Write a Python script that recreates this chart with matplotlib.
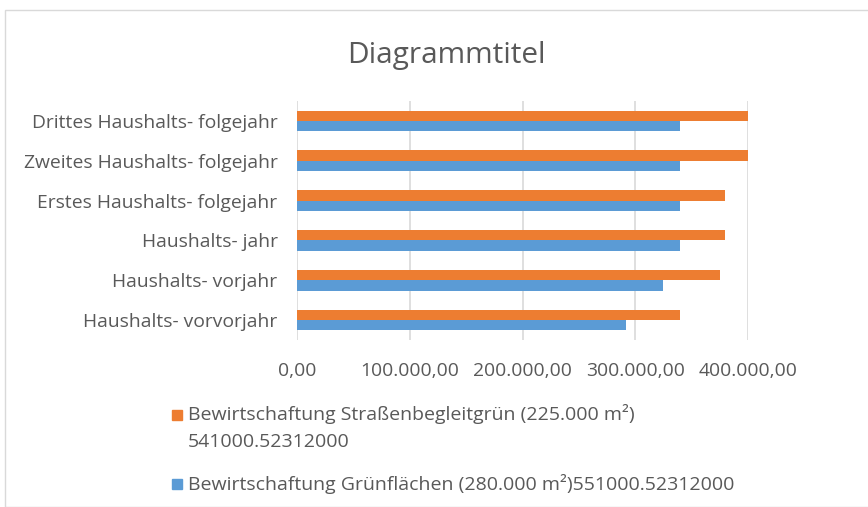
import numpy as np
import matplotlib.pyplot as plt
from matplotlib.patches import Rectangle
from matplotlib.ticker import FuncFormatter

plt.rcParams['font.family'] = ['Open Sans', 'DejaVu Sans']

# ── Data ────────────────────────────────────────────────────────────────────
categories = ['Haushalts- vorvorjahr', 'Haushalts- vorjahr', 'Haushalts- jahr',
              'Erstes Haushalts- folgejahr', 'Zweites Haushalts- folgejahr',
              'Drittes Haushalts- folgejahr']
strassen = [340000, 375000, 380000, 380000, 400000, 400000]
gruen = [292000, 325000, 340000, 340000, 340000, 340000]
label_strassen = 'Bewirtschaftung Straßenbegleitgrün (225.000 m²)\n541000.52312000'
label_gruen = 'Bewirtschaftung Grünflächen (280.000 m²)551000.52312000'
x_ticks = [0, 100000, 200000, 300000, 400000]

ORANGE = '#ED7D31'
BLUE = '#5B9BD5'
TEXT = '#595959'
GRID = '#D9D9D9'

W, H = 868, 507
fig = plt.figure(figsize=(W / 100, H / 100), dpi=100)

# chart frame
fig.patches.append(Rectangle((5 / W, 0), 1, 1 - 10 / H, transform=fig.transFigure,
                             fill=False, edgecolor='#D9D9D9', linewidth=1))

ax = fig.add_axes([297 / W, 1 - 340 / H, (748 - 297) / W, (340 - 101) / H])

y = np.arange(len(categories))
h = 0.26
ax.barh(y + h / 2, strassen, height=h, color=ORANGE, zorder=3)
ax.barh(y - h / 2, gruen, height=h, color=BLUE, zorder=3)

ax.set_xlim(0, 400000)
ax.set_ylim(-0.5, len(categories) - 0.5)
ax.set_xticks(x_ticks)
ax.xaxis.set_major_formatter(FuncFormatter(
    lambda v, p: f'{v:,.2f}'.replace(',', 'X').replace('.', ',').replace('X', '.')))
ax.set_yticks(y)
ax.set_yticklabels(categories)
ax.tick_params(axis='both', length=0, labelsize=13.9, labelcolor=TEXT)
ax.tick_params(axis='x', pad=15.5)
ax.tick_params(axis='y', pad=14)
ax.grid(axis='x', color=GRID, linewidth=1.2, zorder=0)
for s in ax.spines.values():
    s.set_visible(False)

fig.text(446 / W, 1 - 55 / H, 'Diagrammtitel', ha='center', va='center',
         fontsize=21.4, color=TEXT)

# legend
fig.patches.append(Rectangle((172 / W, 1 - 420 / H), 10 / W, 10 / H,
                             transform=fig.transFigure, color=ORANGE))
fig.text(188 / W, 1 - 404 / H, label_strassen, ha='left', va='top',
         fontsize=14, color=TEXT, linespacing=1.62)
fig.patches.append(Rectangle((172 / W, 1 - 489 / H), 10 / W, 10 / H,
                             transform=fig.transFigure, color=BLUE))
fig.text(188 / W, 1 - 484 / H, label_gruen, ha='left', va='center',
         fontsize=14, color=TEXT)

fig.savefig('out.png', dpi=100)
